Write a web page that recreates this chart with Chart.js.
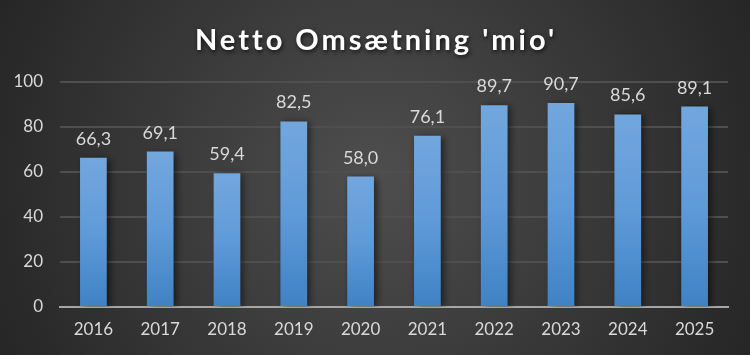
<!DOCTYPE html>
<html>
<head>
<meta charset="utf-8">
<script src="https://cdn.jsdelivr.net/npm/chart.js@4.4.1/dist/chart.umd.min.js"></script>
<style>
html,body{margin:0;padding:0;background:#333;}
#wrap{width:750px;height:355px;position:relative;}
</style>
</head>
<body>
<div id="wrap"><canvas id="c" width="750" height="355"></canvas></div>
<script>
const categories = ['2016','2017','2018','2019','2020','2021','2022','2023','2024','2025'];
const values = [66.3, 69.1, 59.4, 82.5, 58.0, 76.1, 89.7, 90.7, 85.6, 89.1];
const yTicks = [0, 20, 40, 60, 80, 100];
const titleText = "Netto Omsætning 'mio'";

const FONT = 'Lato, "Open Sans", sans-serif';

const bgPlugin = {
  id: 'bg',
  beforeDraw(chart) {
    const ctx = chart.ctx, w = chart.width, h = chart.height;
    ctx.save();
    const g = ctx.createRadialGradient(w/2, h/2, 0, w/2, h/2, w*0.55);
    g.addColorStop(0, '#4e4e4e');
    g.addColorStop(1, '#262626');
    ctx.fillStyle = g;
    ctx.fillRect(0, 0, w, h);
    ctx.restore();
  }
};

const titlePlugin = {
  id: 'ttl',
  afterDraw(chart) {
    const ctx = chart.ctx;
    ctx.save();
    ctx.font = 'bold 29px ' + FONT;
    try { ctx.letterSpacing = '3px'; } catch(e) {}
    ctx.textAlign = 'center';
    ctx.textBaseline = 'alphabetic';
    ctx.shadowColor = 'rgba(0,0,0,0.7)';
    ctx.shadowBlur = 4;
    ctx.shadowOffsetX = 1;
    ctx.shadowOffsetY = 2;
    ctx.fillStyle = '#ffffff';
    ctx.fillText(titleText, 376, 50);
    ctx.restore();
  }
};

const shadowPlugin = {
  id: 'shd',
  beforeDatasetDraw(chart) {
    const ctx = chart.ctx;
    ctx.save();
    ctx.shadowColor = 'rgba(0,0,0,0.55)';
    ctx.shadowBlur = 7;
    ctx.shadowOffsetX = 3;
    ctx.shadowOffsetY = 1;
  },
  afterDatasetDraw(chart) {
    chart.ctx.restore();
  }
};

const labelPlugin = {
  id: 'lbl',
  afterDatasetsDraw(chart) {
    const ctx = chart.ctx;
    const meta = chart.getDatasetMeta(0);
    ctx.save();
    ctx.font = '18px ' + FONT;
    ctx.fillStyle = '#d9d9d9';
    ctx.textAlign = 'center';
    ctx.textBaseline = 'alphabetic';
    meta.data.forEach((bar, i) => {
      ctx.fillText(values[i].toFixed(1).replace('.', ','), bar.x, bar.y - 13);
    });
    ctx.restore();
  }
};

new Chart(document.getElementById('c'), {
  type: 'bar',
  data: {
    labels: categories,
    datasets: [{
      data: values,
      backgroundColor(context) {
        const chart = context.chart;
        const y = chart.scales.y;
        if (!y || !context.parsed) return '#5b9bd5';
        const top = y.getPixelForValue(context.parsed.y);
        const bottom = y.getPixelForValue(0);
        if (!isFinite(top) || !isFinite(bottom) || top === bottom) return '#5b9bd5';
        const g = chart.ctx.createLinearGradient(0, top, 0, bottom);
        g.addColorStop(0, '#72a7dd');
        g.addColorStop(0.5, '#5f9ad9');
        g.addColorStop(1, '#3f82c4');
        return g;
      },
      borderWidth: 0,
      categoryPercentage: 1.0,
      barPercentage: 0.4
    }]
  },
  options: {
    responsive: false,
    animation: false,
    devicePixelRatio: 1,
    layout: { padding: { top: 82, right: 22, bottom: 0, left: 0 } },
    plugins: {
      legend: { display: false },
      title: { display: false },
      tooltip: { enabled: false }
    },
    scales: {
      x: {
        grid: { display: false, drawTicks: false },
        border: { display: true, color: '#a6a6a6', width: 2 },
        ticks: { color: '#d9d9d9', font: { family: FONT, size: 17 }, padding: 12 },
        afterFit(s) { s.height = 48; }
      },
      y: {
        min: 0, max: 100,
        afterBuildTicks(s) { s.ticks = yTicks.map(v => ({ value: v })); },
        grid: { color: '#4f4f4f', lineWidth: 2, drawTicks: false },
        border: { display: false },
        ticks: { color: '#d9d9d9', font: { family: FONT, size: 17 }, padding: 17 },
        afterFit(s) { s.width = 60; }
      }
    }
  },
  plugins: [bgPlugin, shadowPlugin, labelPlugin, titlePlugin]
});
</script>
</body>
</html>
